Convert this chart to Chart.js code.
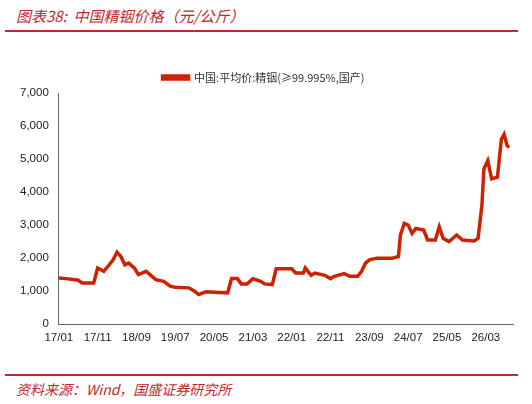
<!DOCTYPE html>
<html><head><meta charset="utf-8">
<script src="https://cdn.jsdelivr.net/npm/chart.js@4/dist/chart.umd.min.js"></script>
<style>
body{margin:0;background:#fff;font-family:"Liberation Sans",Arial,sans-serif}
#wrap{position:relative;width:532px;height:404px}
#title{position:absolute;left:16px;top:5px;color:#c0282d;font-style:italic;font-size:15px;font-family:"Noto Sans CJK SC",sans-serif}
#line1{position:absolute;left:5px;right:14px;top:30px;border-top:2px solid #c0282d}
#line2{position:absolute;left:5px;right:14px;top:374px;border-top:2px solid #c0282d}
#src{position:absolute;left:16px;top:379px;color:#c0282d;font-style:italic;font-size:14px;font-family:"Noto Sans CJK SC",sans-serif}
#box{position:absolute;left:0;top:58px;width:525px;height:290px}
</style></head><body>
<div id="wrap">
<div id="title">图表38:&nbsp; 中国精铟价格（元/公斤）</div>
<div id="line1"></div>
<div id="box"><canvas id="c"></canvas></div>
<div id="line2"></div>
<div id="src">资料来源：Wind，国盛证券研究所</div>
</div>
<script>
// month index from 17/01, price 元/公斤
const months = [0,2,5,6,9,10,11.6,13,14,15,16,17,18,19.5,20.5,22.5,25,27,28.7,30,33.5,35,36,38,40,43.5,44.5,46,47,48.5,50,52,53,55,56,60,61,63,63.5,65,66,68.5,70,71,73.5,75,77,78,79,80,82,86,87.5,88,89,90,91,92,94,95,97,98,99,100.5,102.5,104,107,108,109,109.5,110.5,111.5,113,114,114.7,115.5,116];
const prices = [1400,1380,1330,1250,1250,1700,1600,1800,1950,2180,2050,1800,1850,1700,1500,1600,1350,1300,1150,1120,1100,1000,900,980,970,950,1380,1380,1220,1220,1380,1300,1220,1200,1680,1680,1550,1550,1700,1480,1550,1480,1380,1450,1530,1450,1450,1600,1850,1950,2000,2000,2050,2700,3050,3000,2750,2900,2850,2550,2550,2950,2600,2500,2700,2550,2520,2600,3600,4700,4950,4400,4450,5600,5750,5400,5350];
const seriesName = '中国:平均价:精铟(≥99.995%,国产)';
const yTicks = [0,1000,2000,3000,4000,5000,6000,7000];
const xTicks = [0,10,20,30,40,50,60,70,80,90,100,110];

const pts = months.map((m, i) => ({x: m, y: prices[i]}));
const monthLabel = m => String(17 + Math.floor(m / 12)).padStart(2, '0') + '/' + String(m % 12 + 1).padStart(2, '0');

new Chart(document.getElementById('c'), {
  type: 'line',
  data: {datasets: [{label: seriesName, data: pts, borderColor: '#cc2200', backgroundColor: '#cc2200',
    borderWidth: 3.5, pointRadius: 0, tension: 0}]},
  options: {
    responsive: true, maintainAspectRatio: false, animation: false,
    layout: {padding: {left: 14, right: 12, top: 0, bottom: 0}},
    plugins: {
      tooltip: {enabled: false},
      legend: {labels: {boxWidth: 26, boxHeight: 3, color: '#333', font: {size: 11, family: '"Noto Sans CJK SC"'}, padding: 14}}
    },
    scales: {
      x: {type: 'linear', min: 0, max: 117,
        afterBuildTicks: ax => { ax.ticks = xTicks.map(v => ({value: v})); },
        grid: {display: false, drawTicks: true, tickLength: 4, color: '#666'},
        border: {color: '#666'},
        ticks: {autoSkip: false, color: '#222', font: {size: 11.5}, maxRotation: 0,
          callback: v => monthLabel(Math.round(v))}},
      y: {min: 0, max: 7000,
        afterBuildTicks: ax => { ax.ticks = yTicks.map(v => ({value: v})); },
        grid: {display: false, drawTicks: true, tickLength: 4},
        border: {color: '#666'},
        ticks: {color: '#222', font: {size: 11.5}, padding: 6, callback: v => v.toLocaleString('en-US')}}
    }
  }
});
</script>
</body></html>
